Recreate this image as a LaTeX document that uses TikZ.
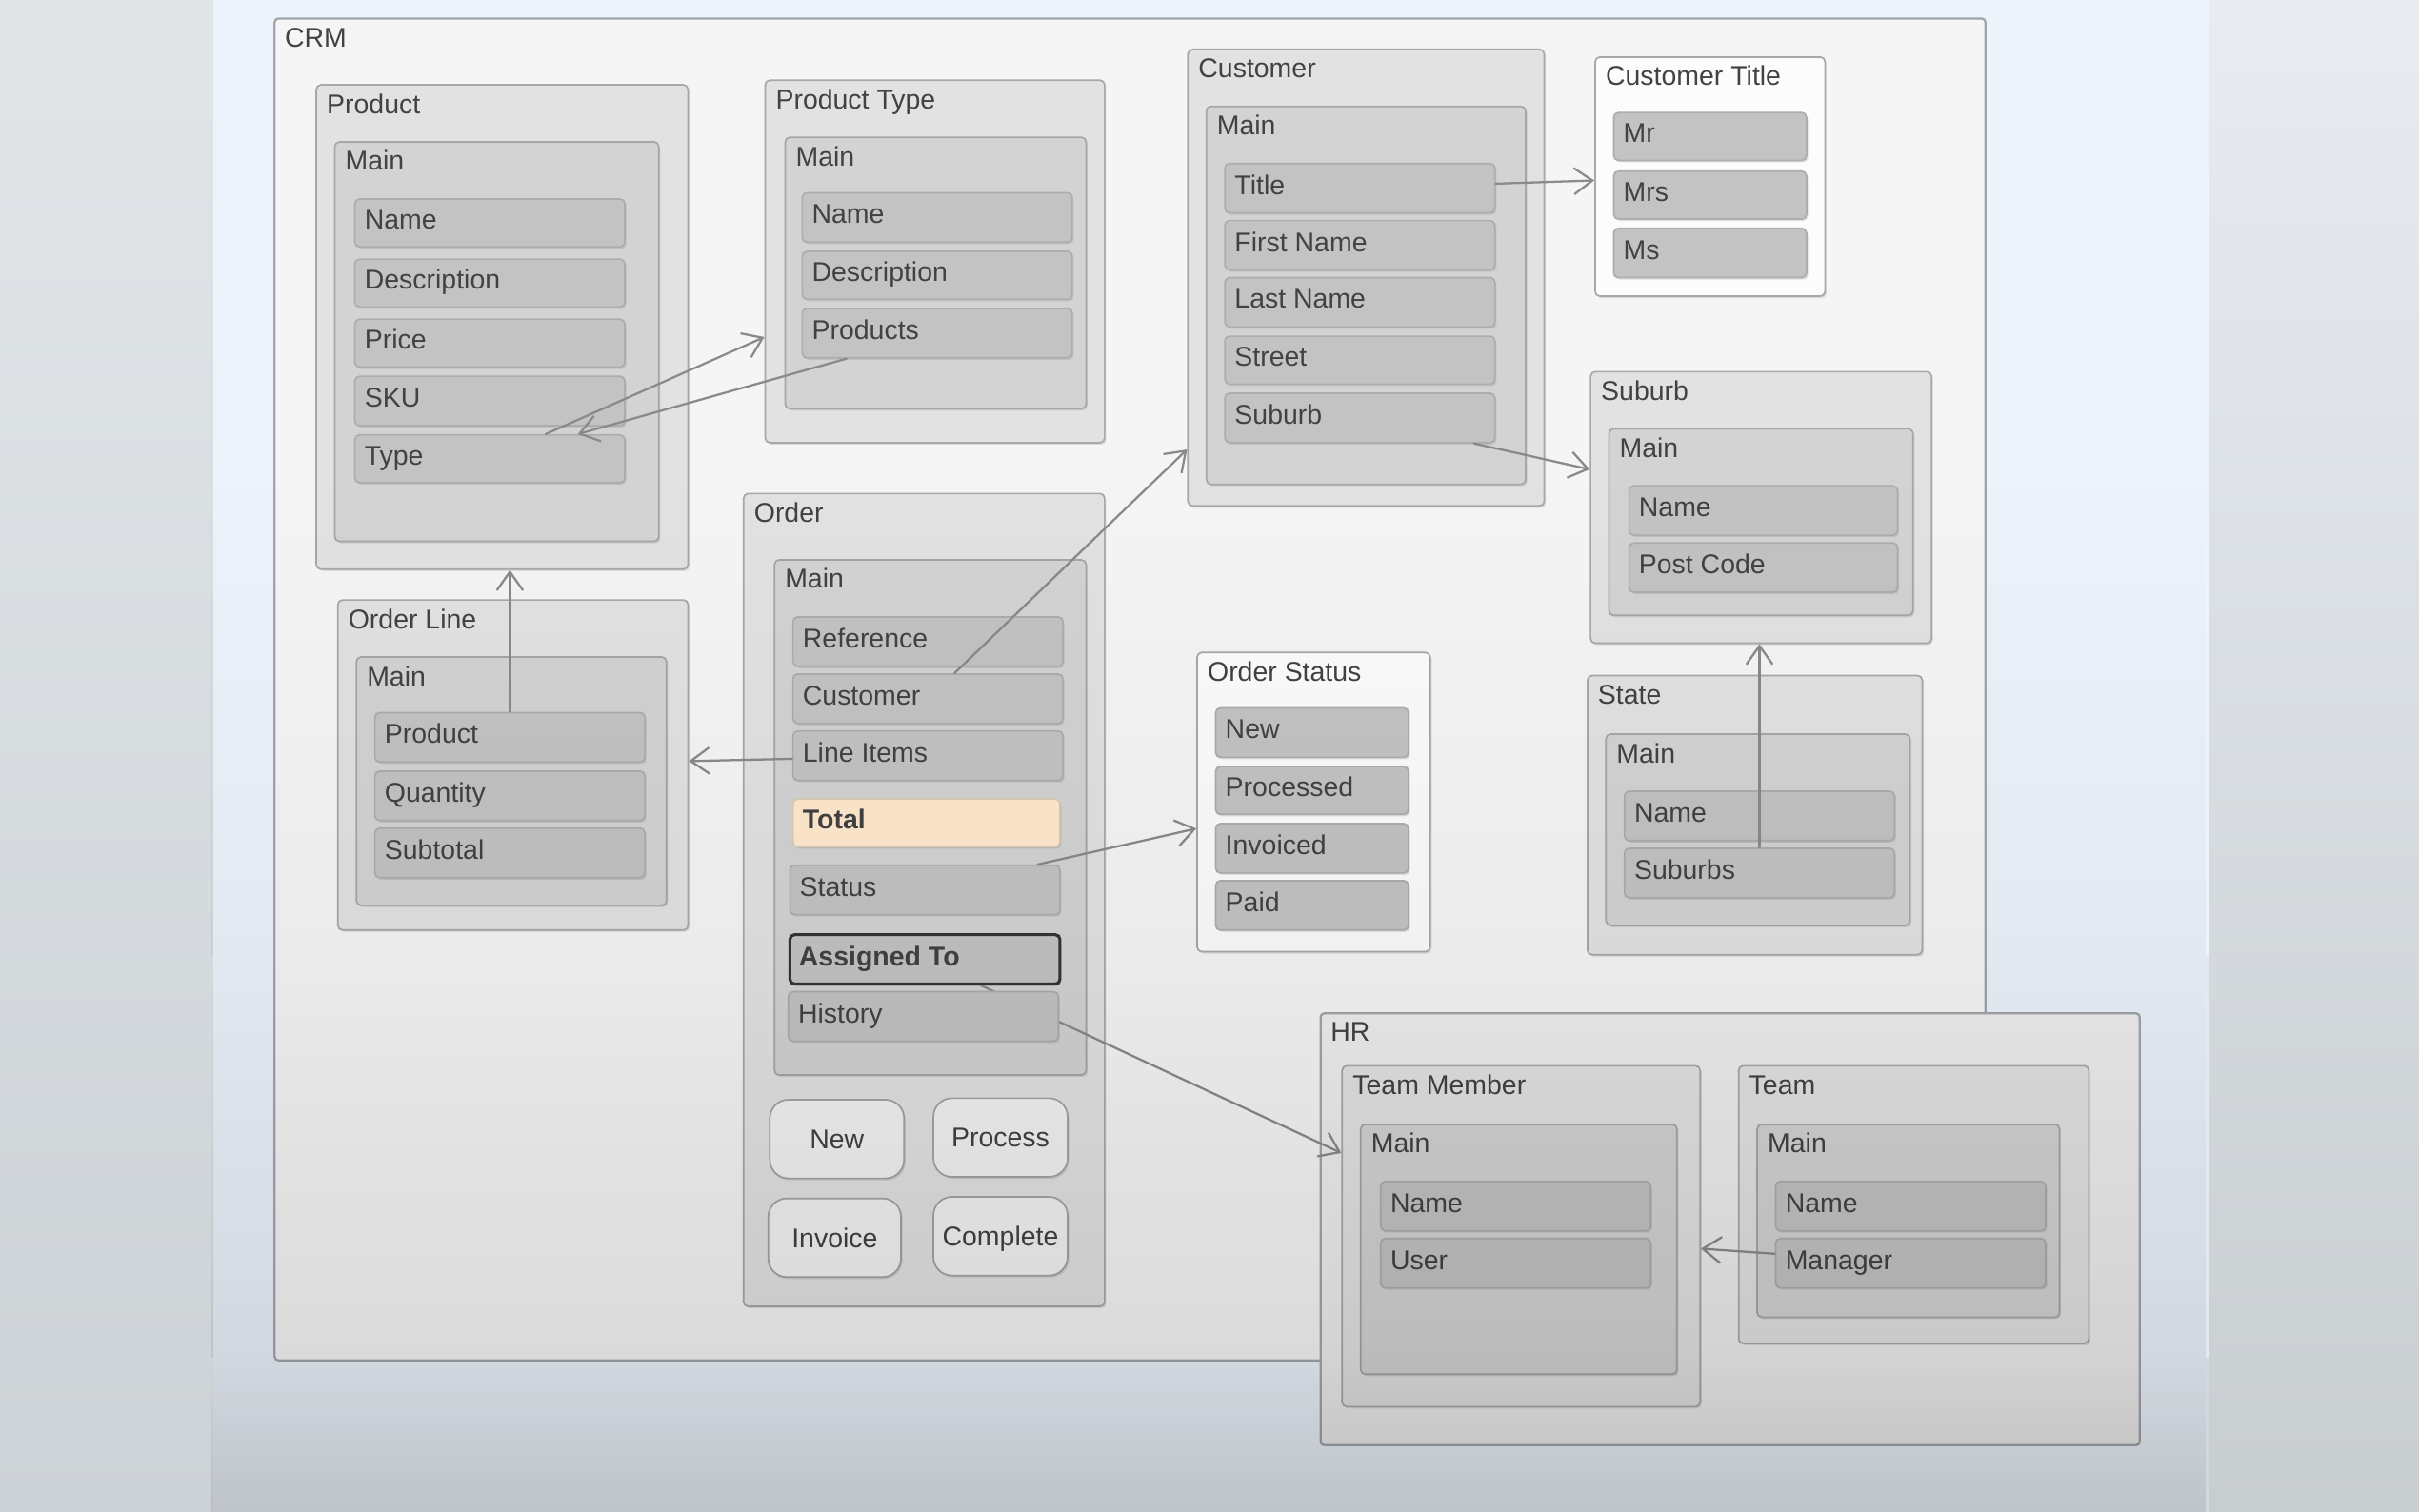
\documentclass[tikz,border=0pt]{standalone}
\usepackage{fontspec}
\setmainfont{Liberation Sans}
\usetikzlibrary{fit,arrows.meta,shadows,fadings}
\definecolor{bgc}{HTML}{ECF3FB}
\definecolor{sidetop}{HTML}{E1E5E8}
\definecolor{sidebot}{HTML}{CDD2D6}
\definecolor{rsidetop}{HTML}{E8ECF1}
\definecolor{rsidebot}{HTML}{C8CDD0}
\definecolor{crmf}{HTML}{F5F5F5}
\definecolor{crmb}{HTML}{A2A6AA}
\definecolor{hrf}{HTML}{EEEEEE}
\definecolor{entf}{HTML}{E2E2E2}
\definecolor{entb}{HTML}{A8A8A8}
\definecolor{whtf}{HTML}{FCFCFC}
\definecolor{mainf}{HTML}{D3D3D3}
\definecolor{mainb}{HTML}{A6A6A6}
\definecolor{fldf}{HTML}{C3C3C3}
\definecolor{fldb}{HTML}{ADADAD}
\definecolor{totf}{HTML}{FFEACE}
\definecolor{totb}{HTML}{DCCBB2}
\definecolor{selb}{HTML}{353535}
\definecolor{btnf}{HTML}{F3F3F3}
\definecolor{btnb}{HTML}{A4A4A4}
\definecolor{txtc}{HTML}{424242}
\definecolor{lnc}{HTML}{8A8A8A}
\tikzfading[name=dimdown, top color=transparent!100, bottom color=transparent!0]
\newcommand{\mkbox}[7]{\node[#1, fit={(#3,#4)(#5,#6)}] (#2) {};\node[ttl] (#2-t) at ([xshift=1.4mm,yshift=-3.8mm]#2.north west) {#7};}
\newcommand{\mkfld}[7]{\node[#1, fit={(#3,#4)(#5,#6)}] (#2) {};\node[ttl] (#2-t) at ([xshift=1.3mm,yshift=-0.8mm]#2.west) {#7};}
\newcommand{\mkbtn}[7]{\node[#1, fit={(#3,#4)(#5,#6)}] (#2) {};\node[ttl, anchor=base] (#2-t) at ([yshift=-1.25mm]#2.center) {#7};}
\begin{document}
\begin{tikzpicture}[x=0.2mm,y=-0.2mm,
  shd/.style={drop shadow={shadow xshift=0.2mm, shadow yshift=-0.25mm, opacity=0.22}},
  crmbox/.style={draw=crmb, fill=crmf, line width=0.8pt, rounded corners=0.5mm, inner sep=0pt},
  hrbox/.style={crmbox, fill=hrf},
  ent/.style={draw=entb, fill=entf, line width=0.6pt, rounded corners=0.6mm, inner sep=0pt, shd},
  wht/.style={ent, fill=whtf},
  mainbox/.style={draw=mainb, fill=mainf, line width=0.6pt, rounded corners=0.6mm, inner sep=0pt, shd},
  fld/.style={draw=fldb, fill=fldf, line width=0.6pt, rounded corners=0.6mm, inner sep=0pt, shd},
  totfld/.style={fld, fill=totf, draw=totb},
  selfld/.style={fld, draw=selb, line width=1.1pt},
  btn/.style={draw=btnb, fill=btnf, line width=0.6pt, rounded corners=2.4mm, inner sep=0pt, shd},
  ttl/.style={anchor=base west, inner sep=0pt, text=txtc, font=\fontsize{10}{12}\selectfont},
  conn/.style={draw=lnc, line width=0.8pt, -{Straight Barb[length=2.4mm,width=3.4mm]}, line cap=round, line join=round}]
\useasboundingbox (0,0) rectangle (1568,980);
% background
\fill[bgc] (0,0) rectangle (1568,980);
\shade[top color=sidetop, bottom color=sidebot] (0,0) rectangle (138,980);
\shade[top color=rsidetop, bottom color=rsidebot] (1432,0) rectangle (1568,980);
% CRM
\mkbox{crmbox}{crm}{178}{12}{1287}{882}{CRM}
% Product
\mkbox{ent}{prod}{205}{55}{446}{369}{Product}
\mkbox{mainbox}{prodm}{217}{92}{427}{351}{Main}
\mkfld{fld}{pname}{230}{129}{405}{160}{Name}
\mkfld{fld}{pdesc}{230}{168}{405}{199}{Description}
\mkfld{fld}{pprice}{230}{207}{405}{238}{Price}
\mkfld{fld}{psku}{230}{244}{405}{276}{SKU}
\mkfld{fld}{ptype}{230}{282}{405}{313}{Type}
% Product Type
\mkbox{ent}{ptyp}{496}{52}{716}{287}{Product Type}
\mkbox{mainbox}{ptypm}{509}{89}{704}{265}{Main}
\mkfld{fld}{ptname}{520}{125}{695}{157}{Name}
\mkfld{fld}{ptdesc}{520}{163}{695}{194}{Description}
\mkfld{fld}{ptprods}{520}{200}{695}{232}{Products}
% Customer
\mkbox{ent}{cust}{770}{32}{1001}{328}{Customer}
\mkbox{mainbox}{custm}{782}{69}{989}{314}{Main}
\mkfld{fld}{ctitle}{794}{106}{969}{138}{Title}
\mkfld{fld}{cfirst}{794}{143}{969}{175}{First Name}
\mkfld{fld}{clast}{794}{180}{969}{212}{Last Name}
\mkfld{fld}{cstreet}{794}{218}{969}{249}{Street}
\mkfld{fld}{csub}{794}{255}{969}{287}{Suburb}
% Customer Title
\mkbox{wht}{custt}{1034}{37}{1183}{192}{Customer Title}
\mkfld{fld}{mr}{1046}{73}{1171}{104}{Mr}
\mkfld{fld}{mrs}{1046}{111}{1171}{142}{Mrs}
\mkfld{fld}{ms}{1046}{148}{1171}{180}{Ms}
% Suburb
\mkbox{ent}{sub}{1031}{241}{1252}{417}{Suburb}
\mkbox{mainbox}{subm}{1043}{278}{1240}{399}{Main}
\mkfld{fld}{sname}{1056}{315}{1230}{347}{Name}
\mkfld{fld}{spost}{1056}{352}{1230}{384}{Post Code}
% State
\mkbox{ent}{st}{1029}{438}{1246}{619}{State}
\mkbox{mainbox}{stm}{1041}{476}{1238}{600}{Main}
\mkfld{fld}{stname}{1053}{513}{1228}{545}{Name}
\mkfld{fld}{stsubs}{1053}{550}{1228}{582}{Suburbs}
% Order Line
\mkbox{ent}{ol}{219}{389}{446}{603}{Order Line}
\mkbox{mainbox}{olm}{231}{426}{432}{587}{Main}
\mkfld{fld}{olprod}{243}{462}{418}{494}{Product}
\mkfld{fld}{olqty}{243}{500}{418}{532}{Quantity}
\mkfld{fld}{olsub}{243}{537}{418}{569}{Subtotal}
% Order
\mkbox{ent}{ord}{482}{320}{716}{847}{Order}
\mkbox{mainbox}{ordm}{502}{363}{704}{697}{Main}
\mkfld{fld}{oref}{514}{400}{689}{432}{Reference}
\mkfld{fld}{ocust}{514}{437}{689}{469}{Customer}
\mkfld{fld}{oline}{514}{474}{689}{506}{Line Items}
\mkfld{totfld}{ototal}{514}{518}{687}{549}{\textbf{Total}}
\mkfld{fld}{ostatus}{512}{561}{687}{593}{Status}
\mkfld{selfld}{oassign}{512}{606}{687}{638}{\textbf{Assigned To}}
\mkbtn{btn}{bnew}{499}{713}{586}{764}{New}
\mkbtn{btn}{bproc}{605}{712}{692}{763}{Process}
\mkbtn{btn}{binv}{498}{777}{584}{828}{Invoice}
\mkbtn{btn}{bcomp}{605}{776}{692}{827}{Complete}
% Order Status
\mkbox{wht}{os}{776}{423}{927}{617}{Order Status}
\mkfld{fld}{osnew}{788}{459}{913}{491}{New}
\mkfld{fld}{osproc}{788}{497}{913}{528}{Processed}
\mkfld{fld}{osinv}{788}{534}{913}{566}{Invoiced}
\mkfld{fld}{ospaid}{788}{571}{913}{603}{Paid}
% HR
\mkbox{hrbox}{hr}{856}{657}{1387}{937}{HR}
\mkbox{ent}{tm}{870}{691}{1102}{912}{Team Member}
\mkbox{mainbox}{tmm}{882}{729}{1087}{891}{Main}
\mkfld{fld}{tmname}{895}{766}{1070}{798}{Name}
\mkfld{fld}{tmuser}{895}{803}{1070}{835}{User}
\mkbox{ent}{team}{1127}{691}{1354}{871}{Team}
\mkbox{mainbox}{teamm}{1139}{729}{1335}{854}{Main}
\mkfld{fld}{tname}{1151}{766}{1326}{798}{Name}
\mkfld{fld}{tmgr}{1151}{803}{1326}{835}{Manager}
% connectors
\draw[conn] (ptype) -- (ptyp);
\draw[conn] (ptprods) -- (ptype);
\draw[conn] (olprod) -- (olprod |- prod.south);
\draw[conn] (oline) -- (ol);
\draw[conn] (ocust) -- (cust);
\draw[conn] (ctitle) -- (custt);
\draw[conn] (csub) -- (sub);
\draw[conn] (stsubs) -- (stsubs |- sub.south);
\draw[conn] (ostatus) -- (os);
\draw[conn] (oassign) -- (tm);
\draw[conn] (tmgr) -- (tm);
% History field drawn over the Assigned To connector
\mkfld{fld}{ohist}{511}{643}{686}{675}{History}
% screen dimming towards the bottom
\fill[black, fill opacity=0.04, path fading=dimdown] (138,300) rectangle (1432,620);
\fill[black, fill opacity=0.04] (138,620) rectangle (1432,980);
\fill[black, fill opacity=0.07, path fading=dimdown] (138,620) rectangle (1432,880);
\fill[black, fill opacity=0.07] (138,880) rectangle (1432,980);
\fill[black, fill opacity=0.09, path fading=dimdown] (138,880) rectangle (1432,980);
\end{tikzpicture}
\end{document}
